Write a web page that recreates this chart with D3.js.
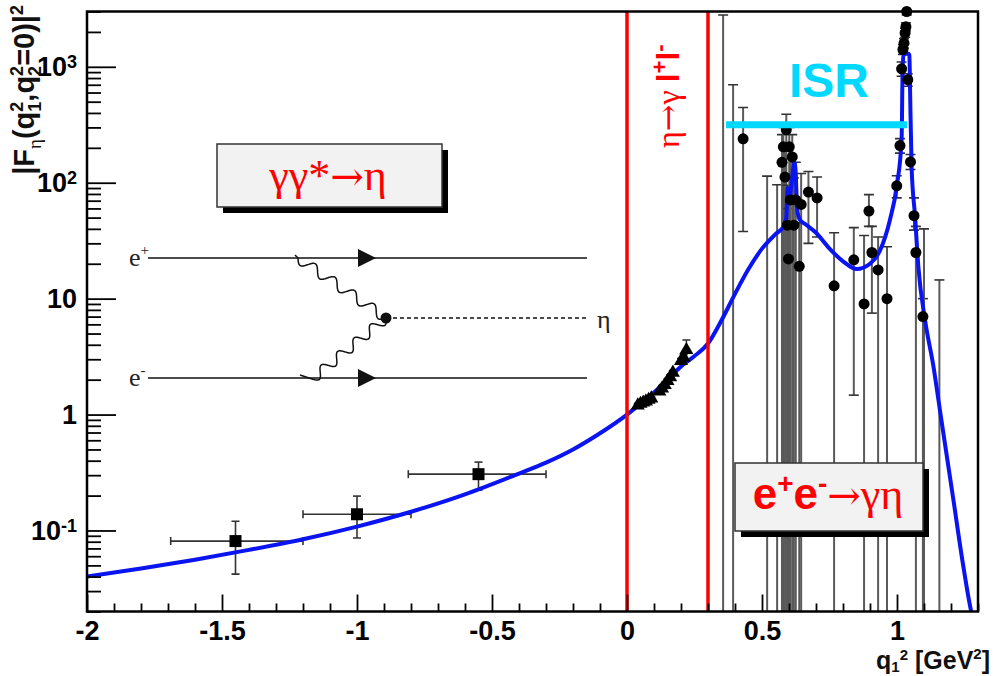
<!DOCTYPE html>
<html><head><meta charset="utf-8">
<script src="https://cdn.jsdelivr.net/npm/d3@7"></script>
<style>body{margin:0;background:#fff}</style>
</head><body>
<svg id="c" width="996" height="676"></svg>
<script>
// ---------------- data ----------------
const xTicksMajor = [-2, -1.5, -1, -0.5, 0, 0.5, 1];
const xTickLabels = ["-2", "-1.5", "-1", "-0.5", "0", "0.5", "1"];
const yTicksMajor = [0.1, 1, 10, 100, 1000];
const yTickBase = ["10", "1", "10", "10", "10"];
const yTickExp = ["-1", "", "", "2", "3"];

// theory curve (blue)
const curveQ2 = [-2.0,-1.8,-1.6,-1.4,-1.2,-1.0,-0.8,-0.6,-0.4,-0.3,-0.2,-0.1,0,0.05,0.1,0.15,0.2,0.25,0.3,0.35,0.4,0.45,0.5,0.55,0.58,0.59,0.595,0.60,0.61,0.62,0.625,0.63,0.64,0.66,0.70,0.75,0.80,0.85,0.90,0.937,0.974,0.999,1.017,1.021,1.024,1.040,1.046,1.048,1.054,1.067,1.079,1.104,1.135,1.159,1.209,1.246,1.277,1.29];
const curveF  = [0.040,0.047,0.056,0.068,0.084,0.108,0.145,0.205,0.31,0.385,0.50,0.69,1.0,1.24,1.55,2.0,2.6,3.2,4.1,6.5,11,18,27,36,42,50,90,70,100,150,120,60,48,44,37,27,21,18,20,26,48,93,235,1000,1270,1300,1270,724,138,51,19,6.5,2.6,1.09,0.183,0.0485,0.019,0.015];

// spacelike data (squares)
const sqQ2  = [-1.45, -1.0, -0.55];
const sqF   = [0.081, 0.138, 0.306];
const sqXlo = [-1.69, -1.2, -0.81];
const sqXhi = [-1.2, -0.8, -0.3];
const sqYlo = [0.042, 0.086, 0.223];
const sqYhi = [0.12, 0.198, 0.389];

// eta -> gamma l+l- data (triangles)
const triQ2 = [0.04,0.05,0.06,0.07,0.08,0.09,0.12,0.13,0.14,0.15,0.16,0.17,0.20,0.21,0.22];
const triF  = [1.20,1.24,1.27,1.30,1.34,1.38,1.58,1.68,1.80,1.95,2.1,2.3,2.9,3.1,3.6];
const triLo = [1.15,1.19,1.22,1.25,1.29,1.33,1.52,1.61,1.73,1.87,2.0,2.2,2.75,2.9,2.9];
const triHi = [1.25,1.29,1.32,1.35,1.39,1.43,1.64,1.75,1.87,2.03,2.2,2.4,3.05,3.3,4.4];

// e+e- -> gamma eta data (circles); 0.01 = centre below the axis
const eeQ2 = [0.356,0.393,0.430,0.519,0.556,0.574,0.579,0.585,0.590,0.594,0.598,0.601,0.605,0.612,0.618,0.625,0.638,0.645,0.672,0.704,0.767,0.840,0.878,0.896,0.907,0.930,0.963,0.999,1.011,1.017,1.022,1.026,1.030,1.033,1.036,1.040,1.050,1.063,1.070,1.096,1.100,1.157];
const eeF  = [0.01,0.01,239,0.01,0.01,150,204,112,286,43,22,204,71,167,43,71,19,65,83,74,12.9,21.6,9,57,25,17.7,10,94,209,960,1410,1600,1960,2220,3000,775,151,52,25,7,0.01,0.01];
const eeLo = [0.005,0.005,38,0.005,0.005,0.005,0.005,0.005,0.005,0.005,0.005,0.005,0.005,0.005,0.005,0.005,0.005,0.005,30,34,0.005,1.47,0.005,42,7.5,0.005,0.005,74,180,830,1280,1450,1800,2050,2800,680,130,39,0.005,0.005,0.005,0.005];
const eeHi = [2800,700,445,114,96,260,300,200,390,95,60,300,160,260,110,150,45,120,125,112,37,41,35,79,42,34,28,115,240,1100,1550,1750,2150,2400,3200,870,175,74,42,10,40,14.5];

const isrRange = [0.367, 1.037];
const isrLevel = 316;
const etaMassSq = 0.3;

// ---------------- drawing ----------------
const svg = d3.select("#c");
svg.append("rect").attr("width", 996).attr("height", 676).attr("fill", "#fff");

const x = d3.scaleLinear().domain([-2, 1.3]).range([87, 978]);
const y = d3.scaleLog().domain([0.02, 3000]).range([611.5, 11.5]);
const X0 = x.range()[0], X1 = x.range()[1], Y0 = y.range()[1], Y1 = y.range()[0];

svg.append("clipPath").attr("id", "clip").append("rect")
  .attr("x", X0).attr("y", Y0).attr("width", X1 - X0).attr("height", Y1 - Y0);

const SANS = "'Liberation Sans', Arial, Helvetica, sans-serif";
const SERIF = "'Liberation Serif', 'DejaVu Serif', 'Times New Roman', serif";
const ARROW = "'DejaVu Serif', serif";

// ---- Feynman diagram (inset) ----
const fd = svg.append("g").attr("stroke", "#111").attr("fill", "none");
const eTop = 258, eBot = 378, vx = 386, vy = 318, lx0 = 148, lx1 = 587;
fd.append("line").attr("x1", lx0).attr("x2", lx1).attr("y1", eTop).attr("y2", eTop).attr("stroke-width", 1.6);
fd.append("line").attr("x1", lx0).attr("x2", lx1).attr("y1", eBot).attr("y2", eBot).attr("stroke-width", 1.6);
[eTop, eBot].forEach(yy => {
  fd.append("path").attr("d", `M358,${yy-9} L376,${yy} L358,${yy+9} Z`).attr("fill", "#111").attr("stroke", "none");
});
fd.append("line").attr("x1", vx).attr("x2", lx1).attr("y1", vy).attr("y2", vy)
  .attr("stroke-width", 1.3).attr("stroke-dasharray", "4,3");
function wavy(p0, p1, waves, amp) {
  const dx = p1[0] - p0[0], dy = p1[1] - p0[1], L = Math.hypot(dx, dy);
  const nx = -dy / L, ny = dx / L, pts = [];
  for (let i = 0; i <= 240; i++) {
    const t = i / 240, o = amp * Math.sin(2 * Math.PI * waves * t);
    pts.push([p0[0] + dx * t + nx * o, p0[1] + dy * t + ny * o]);
  }
  return d3.line().curve(d3.curveBasis)(pts);
}
fd.append("path").attr("d", wavy([298, eTop], [vx, vy], 4.5, 5)).attr("stroke-width", 1.5);
fd.append("path").attr("d", wavy([312, eBot + 1], [vx, vy], 4.5, 5)).attr("stroke-width", 1.5);
fd.append("path").attr("d", `M298,${eTop} l-3,-3`).attr("stroke-width", 1.5);
fd.append("path").attr("d", `M312,${eBot+1} l-12,-4`).attr("stroke-width", 1.5);
fd.append("circle").attr("cx", vx).attr("cy", vy).attr("r", 5.5).attr("fill", "#111").attr("stroke", "none");
const lab = (tx, ty, base, sup) => {
  const t = svg.append("text").attr("x", tx).attr("y", ty).style("font-family", SERIF).style("font-size", "26px").attr("fill", "#222");
  t.append("tspan").text(base);
  if (sup) t.append("tspan").attr("dy", -11).style("font-size", "15px").text(sup);
};
lab(129, 266, "e", "+");
lab(129, 386, "e", "-");
lab(597, 328, "η", "");

// ---- plot content (clipped) ----
const g = svg.append("g").attr("clip-path", "url(#clip)");
const ebColor = "#5a5a5a";

// e+e- error bars
eeQ2.forEach((q, i) => {
  const xx = x(q);
  g.append("line").attr("x1", xx).attr("x2", xx).attr("y1", y(eeLo[i])).attr("y2", y(eeHi[i]))
    .attr("stroke", ebColor).attr("stroke-width", 2);
  [eeLo[i], eeHi[i]].forEach(v => {
    g.append("line").attr("x1", xx - 5).attr("x2", xx + 5).attr("y1", y(v)).attr("y2", y(v))
      .attr("stroke", "#333").attr("stroke-width", 1.6);
  });
});

// square error bars
sqQ2.forEach((q, i) => {
  const xx = x(q), yy = y(sqF[i]);
  g.append("line").attr("x1", x(sqXlo[i])).attr("x2", x(sqXhi[i])).attr("y1", yy).attr("y2", yy).attr("stroke", "#333").attr("stroke-width", 1.6);
  g.append("line").attr("x1", xx).attr("x2", xx).attr("y1", y(sqYlo[i])).attr("y2", y(sqYhi[i])).attr("stroke", "#333").attr("stroke-width", 1.6);
  [sqXlo[i], sqXhi[i]].forEach(v => g.append("line").attr("x1", x(v)).attr("x2", x(v)).attr("y1", yy - 4).attr("y2", yy + 4).attr("stroke", "#333").attr("stroke-width", 1.6));
  [sqYlo[i], sqYhi[i]].forEach(v => g.append("line").attr("x1", xx - 4).attr("x2", xx + 4).attr("y1", y(v)).attr("y2", y(v)).attr("stroke", "#333").attr("stroke-width", 1.6));
});

// triangle error bars
triQ2.forEach((q, i) => {
  const xx = x(q);
  g.append("line").attr("x1", xx).attr("x2", xx).attr("y1", y(triLo[i])).attr("y2", y(triHi[i])).attr("stroke", "#333").attr("stroke-width", 1.5);
  g.append("line").attr("x1", xx - 4).attr("x2", xx + 4).attr("y1", y(triHi[i])).attr("y2", y(triHi[i])).attr("stroke", "#333").attr("stroke-width", 1.5);
});

// blue curve
const line = d3.line().curve(d3.curveMonotoneX).x((d, i) => x(curveQ2[i])).y(d => y(d));
g.append("path").attr("d", line(curveF)).attr("fill", "none").attr("stroke", "#0a14f0")
  .attr("stroke-width", 4).attr("stroke-linejoin", "round");

// red lines
[0, etaMassSq].forEach(v => {
  g.append("line").attr("x1", x(v)).attr("x2", x(v)).attr("y1", Y0).attr("y2", Y1)
    .attr("stroke", "#ff0000").attr("stroke-width", 3.5);
});

// markers
const mk = svg.append("g");
eeQ2.forEach((q, i) => {
  if (eeF[i] >= y.domain()[0]) mk.append("circle").attr("cx", x(q)).attr("cy", y(eeF[i])).attr("r", 5.5).attr("fill", "#000");
});
sqQ2.forEach((q, i) => {
  mk.append("rect").attr("x", x(q) - 6).attr("y", y(sqF[i]) - 6).attr("width", 12).attr("height", 12).attr("fill", "#000");
});
triQ2.forEach((q, i) => {
  mk.append("path").attr("transform", `translate(${x(q)},${y(triF[i])})`)
    .attr("d", d3.symbol().type(d3.symbolTriangle).size(85)()).attr("fill", "#000");
});

// ISR line and text
svg.append("line").attr("x1", x(isrRange[0])).attr("x2", x(isrRange[1])).attr("y1", y(isrLevel)).attr("y2", y(isrLevel))
  .attr("stroke", "#00d8ff").attr("stroke-width", 7);
svg.append("text").attr("x", 829).attr("y", 97).attr("text-anchor", "middle")
  .style("font-family", SANS).style("font-weight", "bold").style("font-size", "48px").attr("fill", "#00d8ff").text("ISR");

// vertical label between red lines
const vt = svg.append("text").attr("transform", "translate(679,148) rotate(-90)")
  .attr("fill", "#ff0000").style("font-size", "32px");
vt.append("tspan").style("font-family", SERIF).text("η");
vt.append("tspan").style("font-family", ARROW).text("→");
vt.append("tspan").style("font-family", SERIF).text("γ ");
vt.append("tspan").style("font-family", SANS).style("font-weight", "bold").text("l");
vt.append("tspan").style("font-family", SANS).style("font-weight", "bold").style("font-size", "22px").attr("dy", -12).text("+");
vt.append("tspan").style("font-family", SANS).style("font-weight", "bold").attr("dy", 12).text("l");
vt.append("tspan").style("font-family", SANS).style("font-weight", "bold").style("font-size", "22px").attr("dy", -12).text("-");

// boxes
function box(bx, by, bw, bh) {
  svg.append("rect").attr("x", bx + 6).attr("y", by + 6).attr("width", bw).attr("height", bh).attr("fill", "#000");
  svg.append("rect").attr("x", bx).attr("y", by).attr("width", bw).attr("height", bh).attr("fill", "#f2f2f2").attr("stroke", "#333").attr("stroke-width", 1.5);
}
box(217, 144, 225, 63);
const t1 = svg.append("text").attr("x", 328).attr("y", 190).attr("text-anchor", "middle").attr("fill", "#ff0000")
  .style("font-family", SERIF).style("font-size", "44px");
t1.append("tspan").text("γγ*");
t1.append("tspan").style("font-family", ARROW).style("font-size", "40px").text("→");
t1.append("tspan").text("η");

box(735, 463, 188, 68);
const t2 = svg.append("text").attr("x", 828).attr("y", 509).attr("text-anchor", "middle").attr("fill", "#ff0000").style("font-size", "44px");
t2.append("tspan").style("font-family", SANS).style("font-weight", "bold").text("e");
t2.append("tspan").style("font-family", SANS).style("font-weight", "bold").style("font-size", "28px").attr("dy", -16).text("+");
t2.append("tspan").style("font-family", SANS).style("font-weight", "bold").attr("dy", 16).text("e");
t2.append("tspan").style("font-family", SANS).style("font-weight", "bold").style("font-size", "28px").attr("dy", -16).text("-");
t2.append("tspan").style("font-family", ARROW).style("font-size", "40px").attr("dy", 16).text("→");
t2.append("tspan").style("font-family", SERIF).text("γη");

// ---- axes ----
const xMinor = d3.range(-20, 14).map(i => i / 10).filter(v => !xTicksMajor.some(m => Math.abs(m - v) < 1e-9));
const yMinor = [];
[-2, -1, 0, 1, 2, 3].forEach(dcd => { for (let k = 2; k <= 9; k++) { const v = k * Math.pow(10, dcd); if (v >= 0.02 && v <= 3000) yMinor.push(v); } });

const ax = svg.append("g").attr("transform", `translate(0,${Y1})`)
  .call(d3.axisBottom(x).tickValues(xTicksMajor).tickSize(-17).tickSizeOuter(0).tickPadding(9)
    .tickFormat((d, i) => xTickLabels[i]));
svg.append("g").attr("transform", `translate(0,${Y1})`)
  .call(d3.axisBottom(x).tickValues(xMinor).tickSize(-8).tickSizeOuter(0).tickFormat(""));
const ay = svg.append("g").attr("transform", `translate(${X0},0)`)
  .call(d3.axisLeft(y).tickValues(yTicksMajor).tickSize(-29).tickSizeOuter(0).tickPadding(10).tickFormat(""));
svg.append("g").attr("transform", `translate(${X0},0)`)
  .call(d3.axisLeft(y).tickValues(yMinor).tickSize(-14).tickSizeOuter(0).tickFormat(""));
svg.selectAll(".domain").remove();
svg.selectAll(".tick line").attr("stroke", "#000").attr("stroke-width", 1.8);
ax.selectAll(".tick text").style("font-family", SANS).style("font-weight", "bold").style("font-size", "27px").attr("fill", "#000");
ay.selectAll(".tick text").each(function(d, i) {
  const t = d3.select(this).style("font-family", SANS).style("font-weight", "bold").style("font-size", "27px").attr("fill", "#000");
  t.append("tspan").text(yTickBase[i]);
  if (yTickExp[i]) t.append("tspan").attr("dy", "-0.45em").style("font-size", "18px").text(yTickExp[i]);
});

// frame
svg.append("rect").attr("x", X0).attr("y", Y0).attr("width", X1 - X0).attr("height", Y1 - Y0)
  .attr("fill", "none").attr("stroke", "#000").attr("stroke-width", 2.5);

// axis titles
const yt = svg.append("text").attr("transform", "translate(34,5) rotate(-90)").attr("text-anchor", "end")
  .style("font-family", SANS).style("font-weight", "bold").style("font-size", "29px").attr("fill", "#111");
yt.append("tspan").text("|F");
yt.append("tspan").attr("dy", 7).style("font-size", "19px").style("font-family", SERIF).style("font-weight", "normal").text("η");
yt.append("tspan").attr("dy", -7).text("(q");
yt.append("tspan").attr("dy", -11).style("font-size", "18px").text("2");
yt.append("tspan").attr("dx", -10).attr("dy", 18).style("font-size", "18px").text("1");
yt.append("tspan").attr("dy", -7).text(",q");
yt.append("tspan").attr("dy", -11).style("font-size", "18px").text("2");
yt.append("tspan").attr("dx", -10).attr("dy", 18).style("font-size", "18px").text("2");
yt.append("tspan").attr("dy", -7).text("=0)|");
yt.append("tspan").attr("dy", -11).style("font-size", "18px").text("2");

const xt = svg.append("text").attr("x", 990).attr("y", 669).attr("text-anchor", "end")
  .style("font-family", SANS).style("font-weight", "bold").style("font-size", "25px").attr("fill", "#111");
xt.append("tspan").text("q");
xt.append("tspan").attr("dy", 3).style("font-size", "15px").text("1");
xt.append("tspan").attr("dy", -12).style("font-size", "15px").text("2");
xt.append("tspan").attr("dy", 9).text(" [GeV");
xt.append("tspan").attr("dy", -10).style("font-size", "15px").text("2");
xt.append("tspan").attr("dy", 10).text("]");
</script>
</body></html>
